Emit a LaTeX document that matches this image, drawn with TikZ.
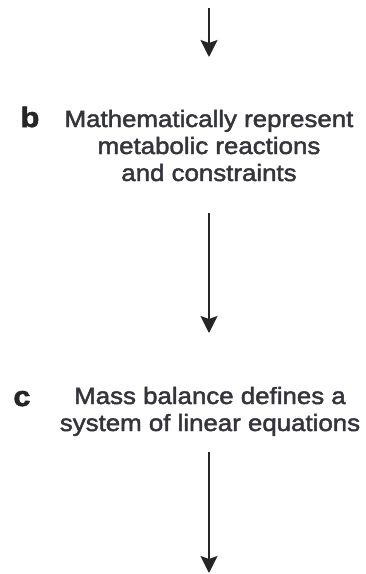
\documentclass[tikz,border=0pt]{standalone}
\usepackage{fontspec}
\setmainfont{Liberation Sans}[FakeStretch=1.1,FakeBold=2]
\usetikzlibrary{arrows.meta}
\definecolor{txtgray}{HTML}{34343C}
\begin{document}
\begin{tikzpicture}[x=1pt,y=-1pt,
  stepline/.style={line width=2pt,draw=black!85,-{Triangle[length=17pt,width=17pt,inset=3pt]}},
  steptext/.style={font=\fontsize{23.5}{27}\selectfont,text=txtgray,align=center,inner sep=0pt,anchor=base},
  steplabel/.style={font=\fontsize{28}{28}\selectfont\bfseries,text=black!85,inner sep=0pt,anchor=base}]
\useasboundingbox (0,0) rectangle (365,574);
\coordinate (a0) at (209,8);
\coordinate (a1) at (209,57);
\node[steptext] (bt) at (209,181) {Mathematically represent\\metabolic reactions\\and constraints};
\node[steplabel] (bl) at (30,127) {b};
\coordinate (b0) at (209,213);
\coordinate (b1) at (209,333);
\node[steptext] (ct) at (210,431) {Mass balance defines a\\system of linear equations};
\node[steplabel] (cl) at (22,406) {c};
\coordinate (c0) at (209,452);
\coordinate (c1) at (209,573);
\draw[stepline] (a0) -- (a1);
\draw[stepline] (b0) -- (b1);
\draw[stepline] (c0) -- (c1);
\end{tikzpicture}
\end{document}
